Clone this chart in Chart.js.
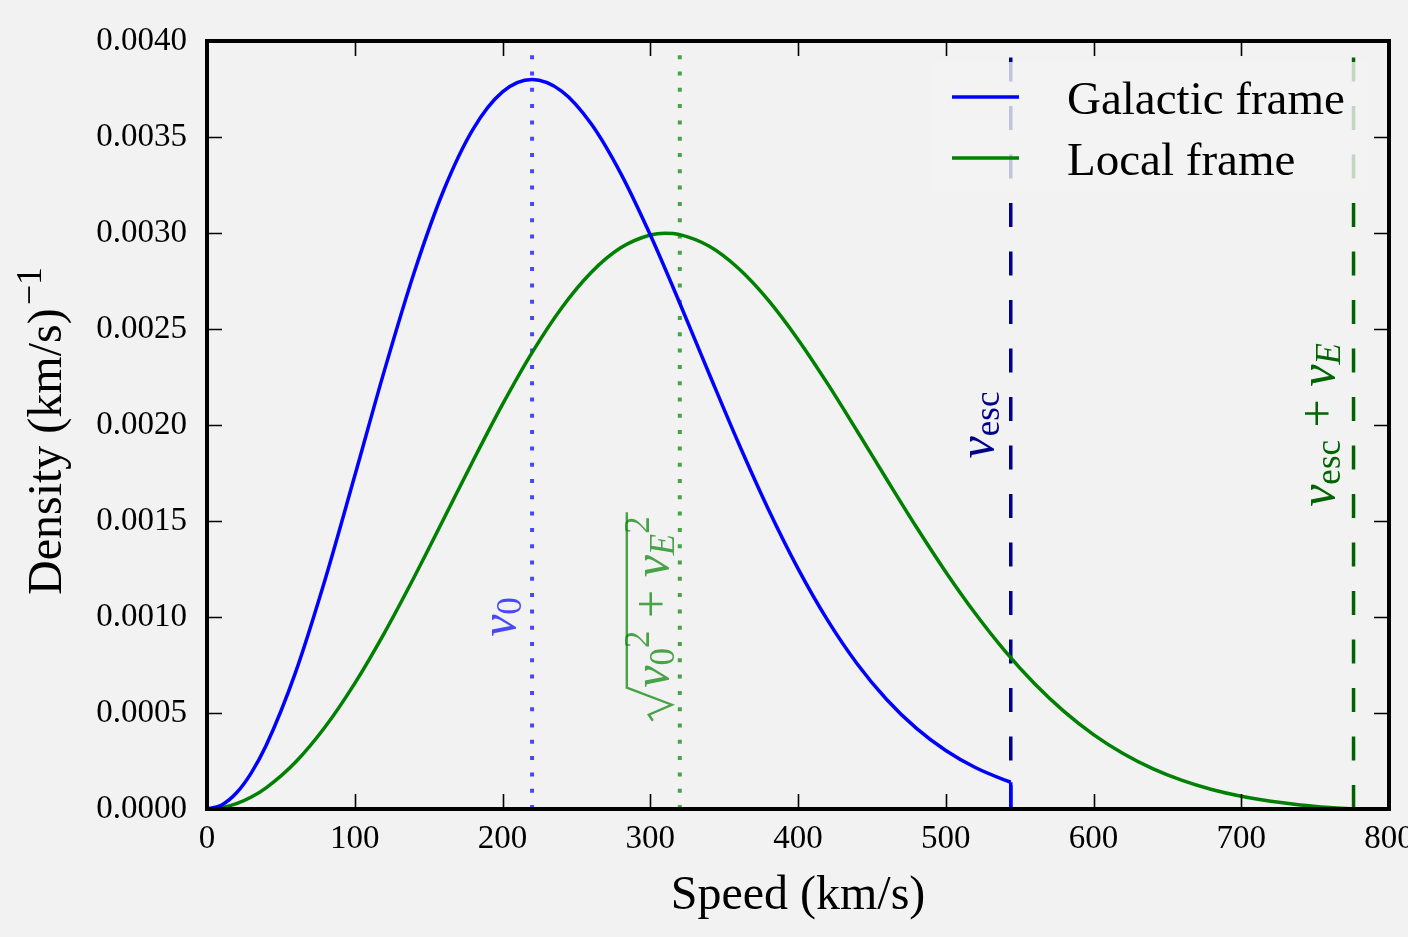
<!DOCTYPE html>
<html>
<head>
<meta charset="utf-8">
<script src="https://cdn.jsdelivr.net/npm/chart.js@4.4.1/dist/chart.umd.min.js"></script>
<style>
  html, body { margin: 0; padding: 0; background: #f2f2f2; }
  #wrap { width: 1408px; height: 937px; }
</style>
</head>
<body>
<div id="wrap"><canvas id="speed-chart" width="1408" height="937"></canvas></div>
<script>
"use strict";

// values
const galacticSpeed = [0, 10, 20, 30, 40, 60, 80, 100, 120, 140, 160, 180, 200, 220, 240, 260, 280,
  300, 320, 340, 360, 380, 400, 420, 440, 460, 480, 500, 520, 540, 544];
const galacticDensity = [0, 0.0000213, 0.0000846, 0.0001885, 0.0003303, 0.0007130, 0.0011964,
  0.0017354, 0.0022819, 0.0027893, 0.0032186, 0.0035395, 0.0037346, 0.0037990, 0.0037386,
  0.0035687, 0.0033109, 0.0029906, 0.0026340, 0.0022642, 0.0019008, 0.0015599, 0.0012522,
  0.0009838, 0.0007566, 0.0005701, 0.0004209, 0.0003047, 0.0002162, 0.0001506, 0.0001397];
const dropSpeed = [544, 544];
const dropDensity = [0.0001397, 0];

const localSpeed = [0, 10, 20, 30, 40, 60, 80, 100, 120, 140, 160, 180, 200, 220, 240, 260, 280, 300,
  310, 320, 340, 360, 380, 400, 420, 440, 460, 480, 500, 520, 540, 560, 580, 600, 620, 640,
  660, 680, 700, 720, 740, 760, 776];
const localDensity = [0, 0.0000069, 0.0000277, 0.0000621, 0.0001100, 0.0002448, 0.0004282,
  0.0006546, 0.0009165, 0.0012045, 0.0015075, 0.0018128, 0.0021071, 0.0023770, 0.0026098,
  0.0027945, 0.0029228, 0.0029895, 0.0029989, 0.0029914, 0.0029306, 0.0028137, 0.0026491,
  0.0024458, 0.0022155, 0.0019689, 0.0017173, 0.0014698, 0.0012347, 0.0010179, 0.0008235,
  0.0006534, 0.0005083, 0.0003875, 0.0002889, 0.0002102, 0.0001488, 0.0001017, 0.0000664,
  0.0000403, 0.0000213, 0.0000079, 0];

// v0, sqrt(v0^2 + vE^2), vesc, vesc + vE
const markerSpeed = [220, 320, 544, 776];

const xTicks = [0, 100, 200, 300, 400, 500, 600, 700, 800];
const yTicks = [0, 0.0005, 0.0010, 0.0015, 0.0020, 0.0025, 0.0030, 0.0035, 0.0040];
const yTickLabels = ["0.0000", "0.0005", "0.0010", "0.0015", "0.0020", "0.0025", "0.0030",
  "0.0035", "0.0040"];

const SERIF = "'Liberation Serif', 'Times New Roman', serif";
const f = (size, style) => (style ? style + " " : "") + size + "px " + SERIF;

function curve(xs, ys, color, smooth) {
    return {
        data: xs.map((v, i) => ({ x: v, y: ys[i] })),
        borderColor: color,
        borderWidth: 3.5,
        pointRadius: 0,
        fill: false,
        cubicInterpolationMode: smooth ? "monotone" : "default",
        tension: 0,
    };
}

function vline(speed, color, dash, width) {
    return {
        data: [{ x: speed, y: yTicks[0] }, { x: speed, y: yTicks[yTicks.length - 1] }],
        borderColor: color,
        borderWidth: width,
        borderDash: dash,
        borderCapStyle: "butt",
        pointRadius: 0,
        fill: false,
        tension: 0,
    };
}

// text made of pieces (sub/superscripts), centred on (cx, baseline) and rotated
function drawRich(ctx, parts, cx, baseY, angle, color, radical) {
    ctx.save();
    ctx.translate(cx, baseY);
    ctx.rotate(angle);
    ctx.fillStyle = color;
    ctx.strokeStyle = color;
    ctx.textAlign = "left";
    ctx.textBaseline = "alphabetic";
    let w = 0;
    parts.forEach(p => { ctx.font = p.font; p.w = ctx.measureText(p.text).width + (p.gap || 0); w += p.w; });
    const rad = radical ? 34 : 0;
    const total = rad + w + (radical ? 4 : 0);
    let u = -total / 2;
    if (radical) {
        ctx.lineWidth = 2.4;
        ctx.lineJoin = "miter";
        ctx.beginPath();
        ctx.moveTo(u + 1, -15);
        ctx.lineTo(u + 7, -19);
        ctx.lineTo(u + 17, 4);
        ctx.lineTo(u + rad, -41);
        ctx.lineTo(u + total, -41);
        ctx.stroke();
        u += rad;
    }
    parts.forEach(p => { ctx.font = p.font; ctx.fillText(p.text, u + (p.gap || 0), p.dy || 0); u += p.w; });
    ctx.restore();
}

const UP = -Math.PI / 2;
const annotations = [
    { i: 0, at: 0.001, dx: -17, color: "rgba(0,0,255,0.7)", radical: false,
      parts: [{ text: "v", font: f(50, "italic") }, { text: "0", font: f(35), dy: 6 }] },
    { i: 1, at: 0.001, dx: -12, color: "rgba(0,128,0,0.7)", radical: true,
      parts: [{ text: "v", font: f(50, "italic") }, { text: "0", font: f(35), dy: 6 },
              { text: "2", font: f(35), dy: -19 }, { text: " + ", font: f(50) },
              { text: "v", font: f(50, "italic") }, { text: "E", font: f(35, "italic"), dy: 6 },
              { text: "2", font: f(35), dy: -19 }] },
    { i: 2, at: 0.002, dx: -18, color: "#00008b", radical: false,
      parts: [{ text: "v", font: f(50, "italic") }, { text: "esc", font: f(35), dy: 6 }] },
    { i: 3, at: 0.002, dx: -20, color: "#006400", radical: false,
      parts: [{ text: "v", font: f(50, "italic") }, { text: "esc", font: f(35), dy: 6 },
              { text: " + ", font: f(50) }, { text: "v", font: f(50, "italic") },
              { text: "E", font: f(35, "italic"), dy: 6 }] },
];

const decorations = {
    id: "decorations",
    afterDatasetsDraw(chart) {
        const { ctx, chartArea: a, scales: { x, y } } = chart;

        // legend (semi transparent box over the dashed lines)
        ctx.save();
        ctx.fillStyle = "rgba(242,242,242,0.8)";
        ctx.fillRect(a.right - 456, a.top + 21, 434, 131);
        ctx.lineWidth = 3.5;
        [["#0000ff", 97, "Galactic frame", 114], ["#008000", 158, "Local frame", 175]].forEach(r => {
            ctx.strokeStyle = r[0];
            ctx.beginPath();
            ctx.moveTo(952, r[1]);
            ctx.lineTo(1019, r[1]);
            ctx.stroke();
            ctx.fillStyle = "#000";
            ctx.font = f(47);
            ctx.textBaseline = "alphabetic";
            ctx.fillText(r[2], 1067, r[3]);
        });
        ctx.restore();

        // labels next to the vertical lines
        annotations.forEach(n => {
            drawRich(ctx, n.parts, x.getPixelForValue(markerSpeed[n.i]) + n.dx,
                y.getPixelForValue(n.at), UP, n.color, n.radical);
        });

        // axis titles
        drawRich(ctx, [{ text: "Speed (km/s)", font: f(48) }], (a.left + a.right) / 2, 909, 0, "#000");
        drawRich(ctx, [{ text: "Density (km/s)", font: f(48) },
                       { text: "\u22121", font: f(36), dy: -20, gap: 3 }],
            61, 431, UP, "#000");

        // frame and inward ticks on all four sides
        ctx.save();
        ctx.strokeStyle = "#000";
        ctx.lineWidth = 1.6;
        ctx.beginPath();
        xTicks.forEach(v => {
            const px = Math.round(x.getPixelForValue(v)) + 0.5;
            ctx.moveTo(px, a.bottom); ctx.lineTo(px, a.bottom - 15);
            ctx.moveTo(px, a.top); ctx.lineTo(px, a.top + 15);
        });
        yTicks.forEach(v => {
            const py = Math.round(y.getPixelForValue(v)) + 0.5;
            ctx.moveTo(a.left, py); ctx.lineTo(a.left + 15, py);
            ctx.moveTo(a.right, py); ctx.lineTo(a.right - 15, py);
        });
        ctx.stroke();
        ctx.lineWidth = 4;
        ctx.strokeRect(a.left, a.top, a.right - a.left, a.bottom - a.top);
        ctx.restore();
    },
};

const chart = new Chart(document.getElementById("speed-chart"), {
    type: "line",
    data: {
        datasets: [
            curve(galacticSpeed, galacticDensity, "#0000ff", true), // Galactic frame
            curve(dropSpeed, dropDensity, "#0000ff", false),
            curve(localSpeed, localDensity, "#008000", true), // Local frame
            vline(markerSpeed[0], "rgba(0,0,255,0.7)", [4, 12.3], 4),
            vline(markerSpeed[1], "rgba(0,128,0,0.7)", [4, 12.3], 4),
            vline(markerSpeed[2], "#00008b", [24, 24.5], 3.5),
            vline(markerSpeed[3], "#006400", [24, 24.5], 3.5),
        ],
    },
    options: {
        responsive: false,
        animation: false,
        layout: { padding: { left: 0, right: 19, top: 41, bottom: 0 } },
        plugins: {
            legend: { display: false },
            tooltip: { enabled: false },
        },
        scales: {
            x: {
                type: "linear",
                min: 0,
                max: 800,
                grid: { display: false },
                border: { display: false },
                afterBuildTicks: s => { s.ticks = xTicks.map(v => ({ value: v })); },
                afterFit: s => { s.height = 128; s.paddingLeft = 0; s.paddingRight = 0; },
                ticks: {
                    font: { size: 33, family: SERIF },
                    color: "#000",
                    padding: 3,
                    maxRotation: 0,
                    autoSkip: false,
                    callback: v => String(v),
                },
            },
            y: {
                type: "linear",
                min: 0,
                max: 0.004,
                grid: { display: false },
                border: { display: false },
                afterBuildTicks: s => { s.ticks = yTicks.map(v => ({ value: v })); },
                afterFit: s => { s.width = 207; s.paddingTop = 0; s.paddingBottom = 0; },
                ticks: {
                    font: { size: 33, family: SERIF },
                    color: "#000",
                    padding: 12,
                    autoSkip: false,
                    callback: (v, i) => yTickLabels[i],
                },
            },
        },
    },
    plugins: [decorations],
});
</script>
</body>
</html>
